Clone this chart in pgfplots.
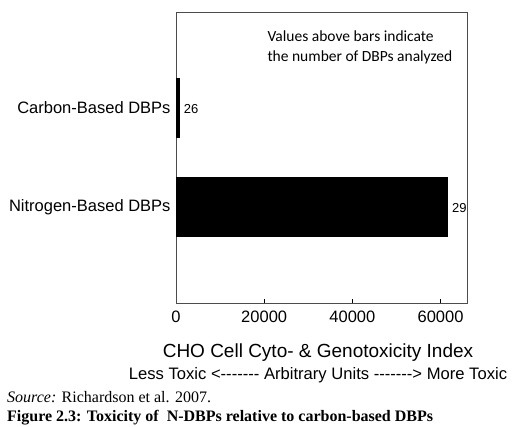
\documentclass[border=0pt]{standalone}
\usepackage{fontspec}
\setmainfont{Liberation Serif}
\newfontfamily\arial{Liberation Sans}
\newfontfamily\calibri{Carlito}
\usepackage{pgfplots}
\pgfplotsset{compat=1.18}
\begin{document}
\begin{tikzpicture}[x=1pt,y=1pt]
\useasboundingbox (0,0) rectangle (518,426);
\clip (0,0) rectangle (518,426);
\begin{axis}[
  at={(176pt,123pt)}, anchor=south west,
  scale only axis, width=291pt, height=291pt,
  xbar, bar width=59pt,
  xmin=0, xmax=66000, ymin=-0.97, ymax=1.97,
  xtick={0,20000,40000,60000},
  scaled ticks=false,
  /pgf/number format/1000 sep={},
  /pgf/number format/assume math mode=true,
  ytick={0,1}, yticklabels={Nitrogen-Based DBPs, Carbon-Based DBPs},
  xtick pos=bottom, ytick pos=left,
  tick align=inside,
  major tick length=4pt,
  y tick style={draw=none},
  x tick style={black, line width=0.8pt},
  axis line style={draw=black!70, line width=0.8pt},
  ticklabel style={font=\arial\fontsize{16.5}{19}\selectfont},
  xticklabel style={yshift=-4pt},
  yticklabel style={xshift=-2pt},
  nodes near coords,
  point meta=explicit symbolic,
  every node near coord/.append style={font=\arial\fontsize{13}{15}\selectfont, anchor=west, yshift=-1pt, xshift=1pt},
]
\addplot[fill=black, draw=black] coordinates {(61600,0) [29] (750,1) [26]};
\end{axis}
\node[font=\calibri\fontsize{15.5}{20}\selectfont, align=left, anchor=north west] at (264,399) {Values above bars indicate\\the number of DBPs analyzed};
\node[font=\arial\fontsize{19}{22}\selectfont] at (318,73) {CHO Cell Cyto- \& Genotoxicity Index};
\node[font=\arial\fontsize{16.6}{19}\selectfont] at (318,51) {Less Toxic <------- Arbitrary Units -------> More Toxic};
\node[font=\fontsize{16}{19}\selectfont, anchor=west, inner sep=0pt] at (7,29) {\textit{Source:} Richardson et al. 2007.};
\node[font=\bfseries\fontsize{16}{19}\selectfont, anchor=base west, inner sep=0pt] at (7,5) {Figure 2.3: Toxicity of \ N-DBPs relative to carbon-based DBPs};
\end{tikzpicture}
\end{document}
